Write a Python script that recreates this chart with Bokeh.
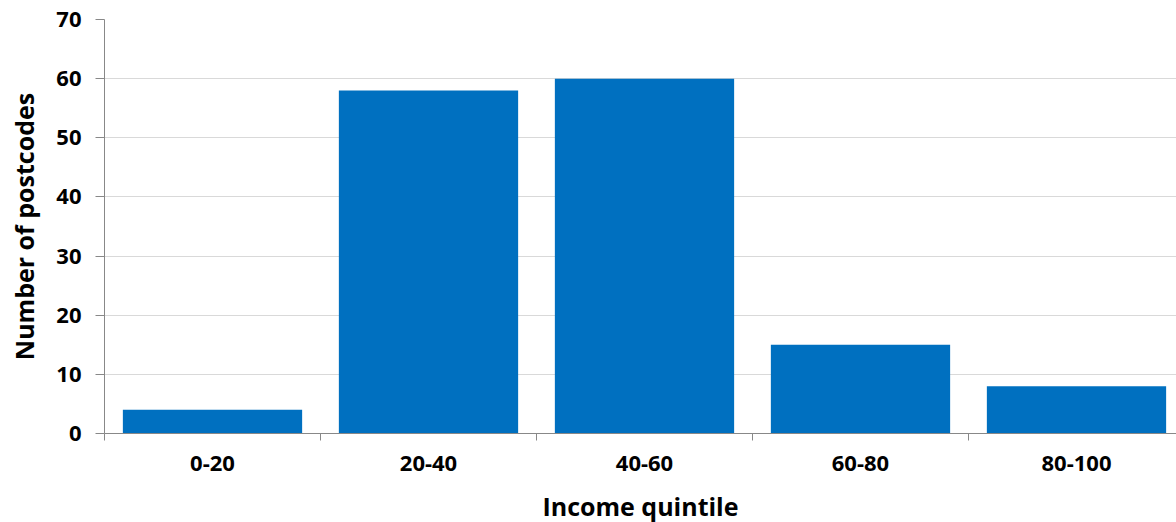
from bokeh.plotting import figure
from bokeh.models import ColumnDataSource, FixedTicker, Range1d
from bokeh.embed import file_html
from bokeh.resources import INLINE

categories = ["0-20", "20-40", "40-60", "60-80", "80-100"]
counts = [4, 58, 60, 15, 8]
y_ticks = [0, 10, 20, 30, 40, 50, 60, 70]

centers = [i + 0.5 for i in range(len(categories))]
bounds = list(range(len(categories)))
src = ColumnDataSource(dict(x=centers, top=counts))

FONT = "Open Sans"

p = figure(frame_width=1072, frame_height=414, output_backend="svg", toolbar_location=None,
           x_range=Range1d(0, 4.963), y_range=Range1d(0, 70),
           min_border_left=104, min_border_right=0, min_border_top=19, min_border_bottom=85)
p.outline_line_color = None
p.background_fill_color = "white"
p.border_fill_color = "white"

p.vbar(x="x", top="top", width=0.83, source=src, color="#0070C0", line_color=None)

# x axis
xa = p.xaxis[0]
xa.ticker = FixedTicker(ticks=centers, minor_ticks=bounds)
xa.major_label_overrides = {c: lab for c, lab in zip(centers, categories)}
xa.major_tick_out = 0
xa.major_tick_in = 0
xa.minor_tick_out = 7
xa.minor_tick_in = 0
xa.minor_tick_line_color = "#888888"
xa.axis_line_color = "#888888"
xa.major_label_text_font = FONT
xa.major_label_text_font_style = "bold"
xa.major_label_text_font_size = "22px"
xa.major_label_text_color = "black"
xa.major_label_standoff = 15
xa.axis_label = "Income quintile"
xa.axis_label_text_font = FONT
xa.axis_label_text_font_style = "bold"
xa.axis_label_text_font_size = "25px"
xa.axis_label_text_color = "black"
xa.axis_label_standoff = 15

# y axis
ya = p.yaxis[0]
ya.ticker = FixedTicker(ticks=y_ticks, minor_ticks=[])
ya.major_tick_out = 9
ya.major_tick_in = 0
ya.major_tick_line_color = "#888888"
ya.axis_line_color = "#888888"
ya.major_label_text_font = FONT
ya.major_label_text_font_style = "bold"
ya.major_label_text_font_size = "22px"
ya.major_label_text_color = "black"
ya.major_label_standoff = 14
ya.axis_label = "Number of postcodes"
ya.axis_label_text_font = FONT
ya.axis_label_text_font_style = "bold"
ya.axis_label_text_font_size = "25px"
ya.axis_label_text_color = "black"
ya.axis_label_standoff = 12

p.xgrid.grid_line_color = None
p.ygrid.grid_line_color = "#d9d9d9"
p.ygrid.grid_line_width = 1

open("out.html", "w").write(file_html(p, INLINE))
